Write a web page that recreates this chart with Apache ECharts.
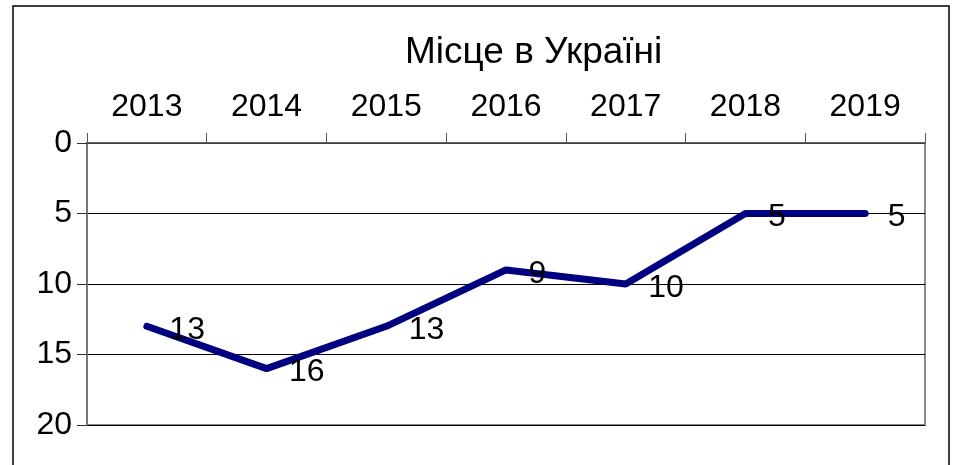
<!DOCTYPE html>
<html>
<head>
<meta charset="utf-8">
<script src="https://cdn.jsdelivr.net/npm/echarts@6/dist/echarts.min.js"></script>
<style>
html,body{margin:0;padding:0;background:#fff;}
#chart{width:955px;height:465px;}
</style>
</head>
<body>
<div id="chart"></div>
<script>
const titleText = 'Місце в Україні';
const years = ['2013','2014','2015','2016','2017','2018','2019'];
const places = [13, 16, 13, 9, 10, 5, 5];
const yMin = 0, yMax = 20, yStep = 5;

const FONT = '"Liberation Sans", Arial, sans-serif';
const chart = echarts.init(document.getElementById('chart'), null, {renderer:'canvas'});
chart.setOption({
  backgroundColor: '#ffffff',
  animation: false,
  title: {
    text: titleText,
    left: 405, top: 34, padding: 0,
    textStyle: {fontFamily: FONT, fontSize: 37, fontWeight: 'normal', color: '#000'}
  },
  graphic: [{
    type: 'rect', silent: true, z: -1,
    shape: {x: 13, y: 6, width: 936, height: 470},
    style: {fill: 'none', stroke: '#000', lineWidth: 1.5}
  }],
  grid: {
    left: 87, right: 30, top: 143, bottom: 40,
    show: true, borderColor: '#8a8a8a', borderWidth: 2, backgroundColor: 'transparent'
  },
  xAxis: {
    type: 'category', data: years, position: 'top', boundaryGap: true,
    axisLine: {show: true, lineStyle: {color: '#555', width: 1.5}},
    axisTick: {show: true, length: 10, lineStyle: {color: '#555', width: 1}},
    axisLabel: {fontFamily: FONT, fontSize: 32, color: '#000', margin: 20}
  },
  yAxis: {
    type: 'value', inverse: true, min: yMin, max: yMax, interval: yStep,
    axisLine: {show: true, lineStyle: {color: '#777', width: 2}},
    axisTick: {show: true, length: 10, lineStyle: {color: '#333', width: 1}},
    axisLabel: {fontFamily: FONT, fontSize: 32, color: '#000', margin: 15},
    splitLine: {show: true, lineStyle: {color: '#000', width: 1}}
  },
  series: [{
    type: 'line', data: places, symbol: 'circle', symbolSize: 1, showSymbol: true,
    itemStyle: {color: 'rgba(0,0,128,0)'},
    lineStyle: {color: '#000080', width: 7, cap: 'round', join: 'round'},
    label: {show: true, position: 'right', distance: 21, offset: [1, 4],
      fontFamily: FONT, fontSize: 32, color: '#000'},
    z: 3
  }]
});
</script>
</body>
</html>
